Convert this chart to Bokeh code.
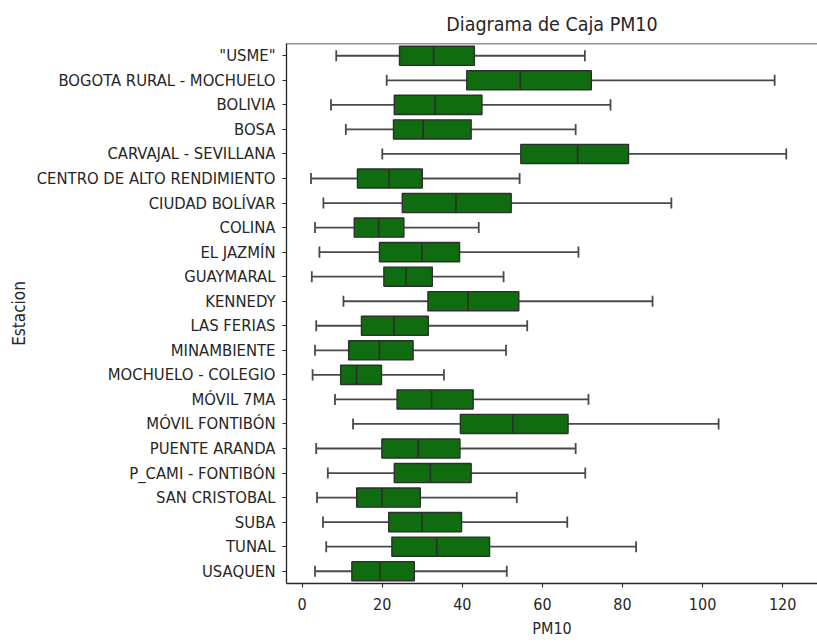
from bokeh.plotting import figure
from bokeh.models import FactorRange, Range1d, ColumnDataSource, Span, FixedTicker
from bokeh.transform import dodge
from bokeh.embed import file_html
from bokeh.resources import INLINE

# PM10 box-plot summary per monitoring station
stations = ['"USME"', "BOGOTA RURAL - MOCHUELO", "BOLIVIA", "BOSA", "CARVAJAL - SEVILLANA",
            "CENTRO DE ALTO RENDIMIENTO", "CIUDAD BOLÍVAR", "COLINA", "EL JAZMÍN", "GUAYMARAL",
            "KENNEDY", "LAS FERIAS", "MINAMBIENTE", "MOCHUELO - COLEGIO", "MÓVIL 7MA",
            "MÓVIL FONTIBÓN", "PUENTE ARANDA", "P_CAMI - FONTIBÓN", "SAN CRISTOBAL", "SUBA",
            "TUNAL", "USAQUEN"]
whisker_low = [8.5, 21.1, 7.2, 10.9, 20.0, 2.2, 5.3, 3.2, 4.3, 2.4, 10.3,
               3.5, 3.2, 2.6, 8.2, 12.7, 3.5, 6.4, 3.7, 5.2, 6.0, 3.2]
q1 = [24.3, 41.1, 23.0, 22.8, 54.6, 13.8, 25.0, 13.0, 19.3, 20.4, 31.4,
      14.8, 11.6, 9.6, 23.7, 39.5, 19.9, 23.0, 13.6, 21.6, 22.4, 12.4]
median = [32.8, 54.5, 33.2, 30.2, 68.8, 21.7, 38.4, 19.1, 29.9, 25.9, 41.4,
          22.9, 19.3, 13.6, 32.3, 52.6, 29.0, 32.0, 19.9, 29.9, 33.6, 19.4]
q3 = [43.0, 72.2, 44.9, 42.2, 81.5, 30.0, 52.2, 25.4, 39.3, 32.5, 54.1,
      31.5, 27.7, 19.8, 42.7, 66.4, 39.4, 42.2, 29.5, 39.8, 46.8, 28.0]
whisker_high = [70.6, 118.0, 77.0, 68.3, 120.9, 54.3, 92.2, 44.1, 69.0, 50.3, 87.5,
                56.2, 50.9, 35.4, 71.5, 104.0, 68.3, 70.7, 53.6, 66.2, 83.4, 51.1]
x_ticks = [0, 20, 40, 60, 80, 100, 120]

FONT = "DejaVu Sans Condensed"
FILL = "#0f6d0f"
EDGE = "#2e2e2e"
WHISKER = "#4a4a4a"

src = ColumnDataSource(dict(station=stations, lo=whisker_low, q1=q1, med=median,
                            q3=q3, hi=whisker_high))

p = figure(width=817, height=642, output_backend="svg", toolbar_location=None,
           y_range=FactorRange(factors=list(reversed(stations))),
           x_range=Range1d(-3.92, 128.7),
           title="Diagrama de Caja PM10",
           min_border_left=286, min_border_right=0, min_border_top=43, min_border_bottom=59)

p.outline_line_color = None
p.xgrid.visible = False
p.ygrid.visible = False
p.background_fill_color = "white"

# whiskers and caps
p.segment(x0="lo", x1="q1", y0="station", y1="station", source=src,
          line_color=WHISKER, line_width=1.8)
p.segment(x0="q3", x1="hi", y0="station", y1="station", source=src,
          line_color=WHISKER, line_width=1.8)
cap_lo = dodge("station", -0.225, range=p.y_range)
cap_hi = dodge("station", 0.225, range=p.y_range)
p.segment(x0="lo", x1="lo", y0=cap_lo, y1=cap_hi, source=src, line_color=WHISKER, line_width=1.8)
p.segment(x0="hi", x1="hi", y0=cap_lo, y1=cap_hi, source=src, line_color=WHISKER, line_width=1.8)

# boxes and medians
p.hbar(y="station", left="q1", right="q3", height=0.78, source=src,
       fill_color=FILL, line_color=EDGE, line_width=1.4)
p.segment(x0="med", x1="med", y0=dodge("station", -0.39, range=p.y_range),
          y1=dodge("station", 0.39, range=p.y_range), source=src,
          line_color=EDGE, line_width=1.7)

# axes
for ax in (p.xaxis[0], p.yaxis[0]):
    ax.axis_line_color = "#262626"
    ax.axis_line_width = 1.3
    ax.major_tick_line_color = "#262626"
    ax.major_tick_line_width = 1.1
    ax.major_tick_in = 0
    ax.major_tick_out = 4
    ax.minor_tick_line_color = None
    ax.major_label_text_font = FONT
    ax.major_label_text_font_size = "16px"
    ax.major_label_text_color = "#262626"
    ax.axis_label_text_font = FONT
    ax.axis_label_text_font_size = "16px"
    ax.axis_label_text_font_style = "normal"
    ax.axis_label_text_color = "#262626"

p.xaxis.ticker = FixedTicker(ticks=x_ticks)
p.xaxis.axis_label = "PM10"
p.xaxis.major_label_standoff = 10
p.xaxis.axis_label_standoff = 6
p.yaxis.axis_label = "Estacion"
p.yaxis.major_label_text_font_size = "16.5px"
p.yaxis.axis_label_text_font_size = "17px"
p.yaxis.major_label_standoff = 7
p.yaxis.axis_label_standoff = 5

# top spine along the upper edge of the frame
p.add_layout(Span(location=len(stations), dimension="width",
                  line_color="#262626", line_width=1.3))

p.title.text_font = FONT
p.title.text_font_size = "19.5px"
p.title.text_font_style = "normal"
p.title.text_color = "#262626"
p.title.align = "center"
p.title.standoff = 15

open("out.html", "w").write(file_html(p, INLINE))
